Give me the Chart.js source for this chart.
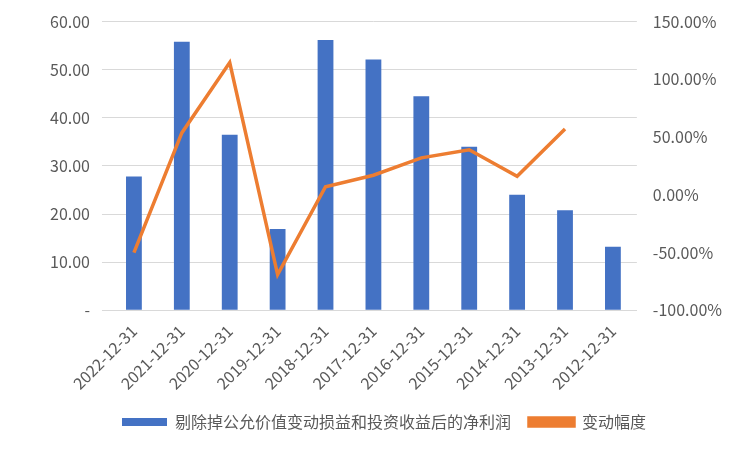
<!DOCTYPE html>
<html><head><meta charset="utf-8">
<script src="https://cdn.jsdelivr.net/npm/chart.js@4/dist/chart.umd.min.js"></script>
<style>html,body{margin:0;padding:0;background:#fff}#w{width:752px;height:452px}</style>
</head><body><div id="w"><canvas id="c"></canvas></div>
<script>
const categories=["2022-12-31","2021-12-31","2020-12-31","2019-12-31","2018-12-31","2017-12-31","2016-12-31","2015-12-31","2014-12-31","2013-12-31","2012-12-31"];
const profit=[27.8,55.8,36.5,16.9,56.2,52.1,44.5,34.0,24.0,20.8,13.2];
const change=[-50,53.6,114.5,-69,7,17,32,39,16,57,null];
const F="'Noto Sans CJK SC','Noto Sans',sans-serif";
Chart.defaults.font.family=F;
new Chart(document.getElementById('c'),{
data:{labels:categories,datasets:[
{type:'line',label:'变动幅度',data:change,yAxisID:'y1',borderColor:'#ED7D31',backgroundColor:'#ED7D31',borderWidth:3.5,pointRadius:0,tension:0,order:0},
{type:'bar',label:'剔除掉公允价值变动损益和投资收益后的净利润',data:profit,yAxisID:'y',backgroundColor:'#4472C4',categoryPercentage:0.6,barPercentage:0.55,order:1}
]},
options:{responsive:true,maintainAspectRatio:false,animation:false,
layout:{padding:{left:38,right:22,top:14,bottom:12}},
plugins:{legend:{position:'bottom',reverse:true,labels:{boxWidth:45,boxHeight:8,color:'#595959',font:{size:16},padding:18}},tooltip:{enabled:false}},
scales:{
x:{grid:{display:false},border:{color:'#d9d9d9'},ticks:{color:'#595959',font:{size:16},maxRotation:45,minRotation:45}},
y:{min:0,max:60,ticks:{stepSize:10,color:'#595959',font:{size:16},padding:12,callback:v=>v===0?'-':v.toFixed(2)},grid:{color:'#d9d9d9'},border:{display:false}},
y1:{position:'right',min:-100,max:150,ticks:{stepSize:50,color:'#595959',font:{size:16},padding:8,callback:v=>v.toFixed(2)+'%'},grid:{display:false},border:{display:false}}
}}});
</script></body></html>
